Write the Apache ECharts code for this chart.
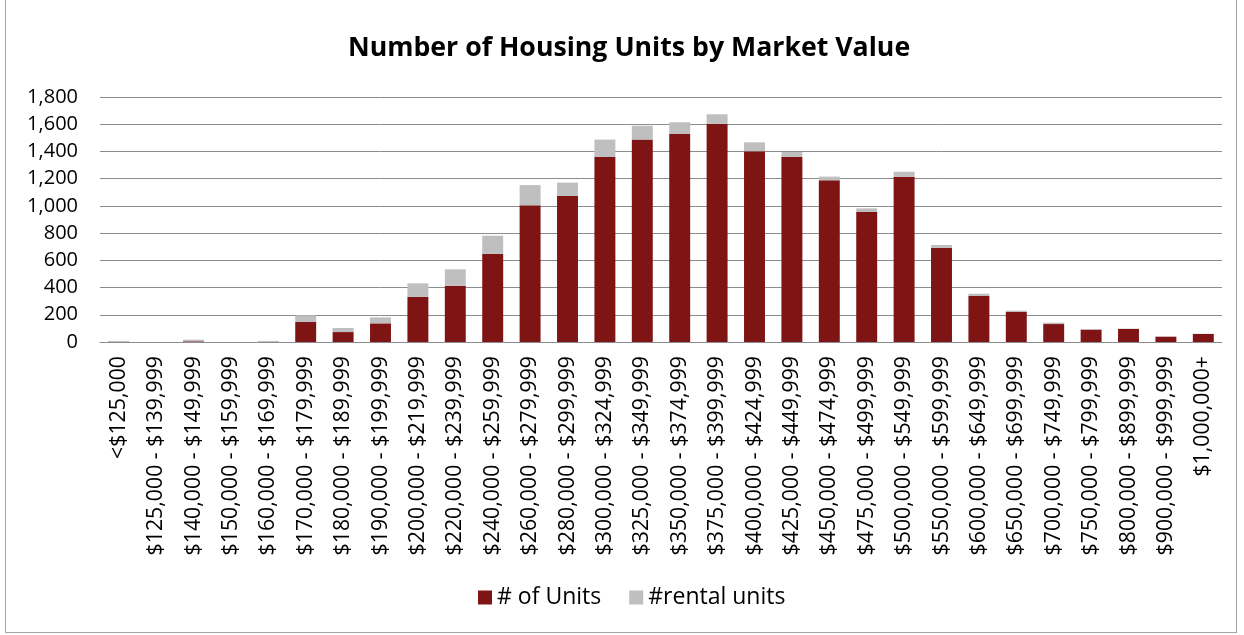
<!DOCTYPE html>
<html>
<head>
<meta charset="utf-8">
<script src="https://cdn.jsdelivr.net/npm/echarts@6/dist/echarts.min.js"></script>
<style>
  html, body { margin: 0; padding: 0; background: #ffffff; }
  #frame { position: absolute; left: 5px; top: 0; width: 1232px; height: 633px; border: 1px solid #a6a6a6; border-top: none; box-sizing: border-box; }
  #chart { position: absolute; left: 0; top: 0; width: 1244px; height: 635px; }
</style>
</head>
<body>
<div id="frame"></div>
<div id="chart"></div>
<script>
// Market value bands
const categories = [
  '<$125,000', '$125,000 - $139,999', '$140,000 - $149,999', '$150,000 - $159,999',
  '$160,000 - $169,999', '$170,000 - $179,999', '$180,000 - $189,999', '$190,000 - $199,999',
  '$200,000 - $219,999', '$220,000 - $239,999', '$240,000 - $259,999', '$260,000 - $279,999',
  '$280,000 - $299,999', '$300,000 - $324,999', '$325,000 - $349,999', '$350,000 - $374,999',
  '$375,000 - $399,999', '$400,000 - $424,999', '$425,000 - $449,999', '$450,000 - $474,999',
  '$475,000 - $499,999', '$500,000 - $549,999', '$550,000 - $599,999', '$600,000 - $649,999',
  '$650,000 - $699,999', '$700,000 - $749,999', '$750,000 - $799,999', '$800,000 - $899,999',
  '$900,000 - $999,999', '$1,000,000+'
];

// Owner units per band
const ownerUnits = [
  0, 0, 5, 0, 0, 147, 73, 137, 331, 414, 647, 1004, 1073, 1359, 1487,
  1528, 1604, 1401, 1359, 1188, 955, 1215, 693, 338, 223, 132, 91, 96, 39, 59
];

// Rental units per band (stacked on top)
const rentalUnits = [
  8, 0, 12, 0, 8, 49, 30, 44, 100, 120, 134, 149, 98, 128, 102,
  86, 69, 66, 37, 27, 27, 36, 20, 17, 7, 10, 4, 2, 3, 2
];

// Value axis ticks
const yMin = 0, yMax = 1800, yStep = 200;

const FONT = '"Open Sans", "Noto Sans", sans-serif';
const chart = echarts.init(document.getElementById('chart'));
chart.setOption({
  animation: false,
  backgroundColor: 'transparent',
  title: {
    text: 'Number of Housing Units by Market Value',
    left: 343,
    top: 30,
    textStyle: { fontFamily: FONT, fontWeight: 'bold', fontSize: 26.7, color: '#000' }
  },
  legend: {
    bottom: 21,
    left: 473,
    itemWidth: 14,
    itemHeight: 14,
    itemGap: 28,
    icon: 'rect',
    textStyle: { fontFamily: FONT, fontSize: 23, color: '#000' },
    data: ['# of Units', '#rental units']
  },
  grid: { left: 100, right: 22, top: 97, bottom: 293, containLabel: false },
  xAxis: {
    type: 'category',
    data: categories,
    axisLine: { lineStyle: { color: '#8c8c8c', width: 1 } },
    axisTick: { show: false },
    axisLabel: {
      interval: 0,
      rotate: 90,
      margin: 14,
      fontFamily: FONT,
      fontSize: 21.3,
      color: '#000'
    }
  },
  yAxis: {
    type: 'value',
    min: yMin,
    max: yMax,
    interval: yStep,
    axisLine: { show: false },
    axisTick: { show: false },
    splitLine: { lineStyle: { color: '#8c8c8c', width: 1 } },
    axisLabel: {
      margin: 22,
      fontFamily: FONT,
      fontSize: 20,
      color: '#000',
      formatter: v => v.toLocaleString('en-US')
    }
  },
  series: [
    {
      name: '# of Units',
      type: 'bar',
      stack: 'total',
      data: ownerUnits,
      barCategoryGap: '44%',
      itemStyle: { color: '#7f1414' }
    },
    {
      name: '#rental units',
      type: 'bar',
      stack: 'total',
      data: rentalUnits,
      barCategoryGap: '44%',
      itemStyle: { color: '#bfbfbf' }
    }
  ]
});
</script>
</body>
</html>
